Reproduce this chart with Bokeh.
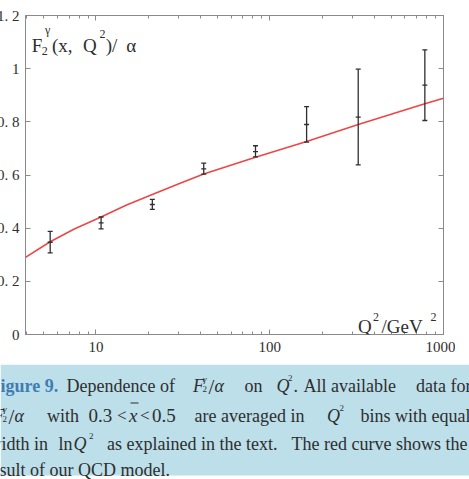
import numpy as np
from bokeh.plotting import figure
from bokeh.models import (Range1d, LinearAxis, LogAxis, FixedTicker, Label,
                          PrintfTickFormatter, CustomJSTickFormatter)
from bokeh.layouts import column, row
from bokeh.embed import file_html
from bokeh.resources import INLINE

# Averaged photon structure function data in bins of ln Q^2
q2 = [5.45, 10.7, 21.1, 41.7, 82.8, 163, 323, 781]
f2 = [0.347, 0.420, 0.489, 0.623, 0.688, 0.790, 0.818, 0.938]
f2_lo = [0.307, 0.397, 0.471, 0.603, 0.668, 0.724, 0.638, 0.805]
f2_hi = [0.388, 0.442, 0.508, 0.645, 0.710, 0.857, 0.998, 1.071]

# QCD model curve
model_q2 = [3.93, 5.45, 7.5, 10.7, 15, 21.1, 30, 41.7, 82.8, 163, 323, 781, 1000]
model_f2 = [0.290, 0.349, 0.397, 0.442, 0.487, 0.527, 0.567, 0.604, 0.667, 0.726, 0.790, 0.868, 0.889]

x_ticks = [10, 100, 1000]
x_minor = [m * d for d in (1, 10, 100) for m in range(2, 10)]
y_ticks = [0.0, 0.2, 0.4, 0.6, 0.8, 1.0, 1.2]
y_tick_labels = ["0", "0. 2", "0. 4", "0. 6", "0. 8", "1", "1. 2"]

X_MIN, X_MAX = 3.93, 1000
Y_MIN, Y_MAX = 0.0, 1.2

GREY = "#8a8a8a"
INK = "#2e2e2e"
SERIF = "Liberation Serif"

# frame placement on the page (pixels)
FL, FR, FT, FB = 23, 450, 15, 334
TOP_H = 364
SHIFT = 7                 # the plot is pulled left so its tick labels run off the page edge
UPP = (Y_MAX - Y_MIN) / (FB - FT)


def q_at(px):
    lo, hi = np.log10(X_MIN), np.log10(X_MAX)
    return float(10 ** (lo + (px - FL) / (FR - FL) * (hi - lo)))


def f_at(py):
    return (FB - py) * UPP + Y_MIN


p = figure(width=469, height=TOP_H, x_axis_type="log",
           x_range=Range1d(X_MIN, X_MAX), y_range=Range1d(Y_MIN, Y_MAX),
           output_backend="svg", toolbar_location=None,
           min_border_left=FL + SHIFT, min_border_right=469 - FR - SHIFT,
           min_border_top=FT, min_border_bottom=TOP_H - FB,
           styles={"margin-left": f"-{SHIFT}px"})
p.grid.visible = False
p.outline_line_color = GREY
p.background_fill_color = "white"
p.border_fill_color = "white"

blank = CustomJSTickFormatter(code="return ''")


def style_axis(ax, labels, standoff=7):
    ax.axis_line_color = GREY
    ax.major_tick_line_color = GREY
    ax.minor_tick_line_color = GREY
    ax.major_tick_in = 5
    ax.major_tick_out = 0
    ax.minor_tick_in = 3
    ax.minor_tick_out = 0
    if labels:
        ax.major_label_text_font = SERIF
        ax.major_label_text_font_size = "15px"
        ax.major_label_text_color = INK
        ax.major_label_standoff = standoff
    else:
        ax.formatter = blank
        ax.major_label_text_font_size = "1px"
        ax.major_label_standoff = 0


xb = p.xaxis[0]
xb.ticker = FixedTicker(ticks=x_ticks, minor_ticks=x_minor)
xb.formatter = PrintfTickFormatter(format="%d")
style_axis(xb, True)

yl = p.yaxis[0]
yl.ticker = FixedTicker(ticks=y_ticks, minor_ticks=[])
yl.major_label_overrides = {t: s for t, s in zip(y_ticks, y_tick_labels)}
style_axis(yl, True, standoff=6)

xt = LogAxis(ticker=FixedTicker(ticks=x_ticks, minor_ticks=x_minor))
style_axis(xt, False)
p.add_layout(xt, "above")

yr = LinearAxis(ticker=FixedTicker(ticks=y_ticks, minor_ticks=[]))
style_axis(yr, False)
p.add_layout(yr, "right")

# model curve
p.line(model_q2, model_f2, line_color="#ee4646", line_width=1.6)

# data with error bars
p.segment(x0=q2, y0=f2_lo, x1=q2, y1=f2_hi, line_color=INK, line_width=1.3)
p.scatter(q2, f2_lo, marker="dash", size=5, line_color=INK, line_width=1.3)
p.scatter(q2, f2_hi, marker="dash", size=5, line_color=INK, line_width=1.3)
p.scatter(q2, f2, marker="dash", size=5, line_color=INK, line_width=1.3)


def put(fig, text, x, y, size, style="normal", color=INK, align="left"):
    fig.add_layout(Label(x=x, y=y, text=text, text_font=SERIF,
                         text_font_size=f"{size}px", text_font_style=style,
                         text_color=color, text_baseline="alphabetic",
                         text_align=align))


# y-axis title inside the frame: F_2^gamma(x, Q^2)/alpha
put(p, "F", q_at(29.3), f_at(45), 19)
put(p, "2", q_at(39.5), f_at(50), 12)
put(p, "\u03b3", q_at(43), f_at(29), 12)
put(p, "(x,", q_at(50), f_at(45), 19)
put(p, "Q", q_at(81.7), f_at(45), 19)
put(p, "2", q_at(98.5), f_at(33), 12)
put(p, ")/", q_at(105), f_at(45), 19)
put(p, "\u03b1", q_at(126), f_at(45), 19)

# x-axis title inside the frame: Q^2/GeV^2
put(p, "Q", q_at(362.7), f_at(326), 19)
put(p, "2", q_at(378), f_at(316), 12)
put(p, "/GeV", q_at(386.7), f_at(326), 19)
put(p, "2", q_at(436.7), f_at(316), 12)

# caption panel
CAP_H = 479 - TOP_H
cap = figure(width=469, height=CAP_H, x_range=Range1d(0, 469), y_range=Range1d(CAP_H, 0),
             output_backend="svg", toolbar_location=None, min_border=0,
             x_axis_location=None, y_axis_location=None)
cap.grid.visible = False
cap.outline_line_color = None
cap.background_fill_color = "white"
cap.border_fill_color = "white"
cap.quad(left=0, right=469, top=0, bottom=111, fill_color="#bcdfea", line_color=None)

FS = 18
B1, B2, B3, B4 = 21, 51, 79.5, 105


def frac_f(x, b):
    # italic F with gamma superscript and 2 subscript, over alpha
    put(cap, "F", x, b, FS, "italic")
    put(cap, "\u03b3", x + 10, b - 6.5, 9, "italic")
    put(cap, "2", x + 9.5, b + 3, 9)
    put(cap, "/", x + 15.5, b + 1.5, 21)
    put(cap, "\u03b1", x + 21.5, b, FS, "italic")


# line 1
put(cap, "Figure 9.", -11, B1, FS, "bold", color="#3f7db2")
put(cap, "Dependence of", 66, B1, FS)
frac_f(192.5, B1)
put(cap, "on", 244, B1, FS)
put(cap, "Q", 276, B1, FS, "italic")
put(cap, "2", 287.5, B1 - 8, 9)
put(cap, ".", 293, B1, FS)
put(cap, "All available", 303, B1, FS)
put(cap, "data for", 471, B1, FS, align="right")

# line 2
frac_f(-7.5, B2)
put(cap, "with", 46.5, B2, FS)
put(cap, "0.3", 88, B2, 19)
put(cap, "<", 116.5, B2, 17)
put(cap, "x", 128.5, B2, 19, "italic")
cap.segment(x0=[130], y0=[B2 - 12.5], x1=[138], y1=[B2 - 12.5], line_color=INK, line_width=1)
put(cap, "<", 139.5, B2, 17)
put(cap, "0.5", 151.5, B2, 19)
put(cap, "are averaged in", 194, B2, FS)
put(cap, "Q", 326.5, B2, FS, "italic")
put(cap, "2", 339, B2 - 8, 9)
put(cap, "bins with equal", 470, B2, FS, align="right")

# line 3
put(cap, "width in", -12, B3, FS)
put(cap, "ln", 58, B3, FS)
put(cap, "Q", 73, B3, FS, "italic")
put(cap, "2", 88.5, B3 - 8, 9)
put(cap, "as explained in the text.", 106.5, B3, FS)
put(cap, "The red curve shows the", 467, B3, FS, align="right")

# line 4
put(cap, "result of our QCD model.", -15, B4, FS)

# the plot sits in its own row so its borders are not shared with the caption
layout = column(row(p, spacing=0), cap, spacing=0, width=469, styles={"overflow": "hidden"})
open("out.html", "w").write(file_html(layout, INLINE))
